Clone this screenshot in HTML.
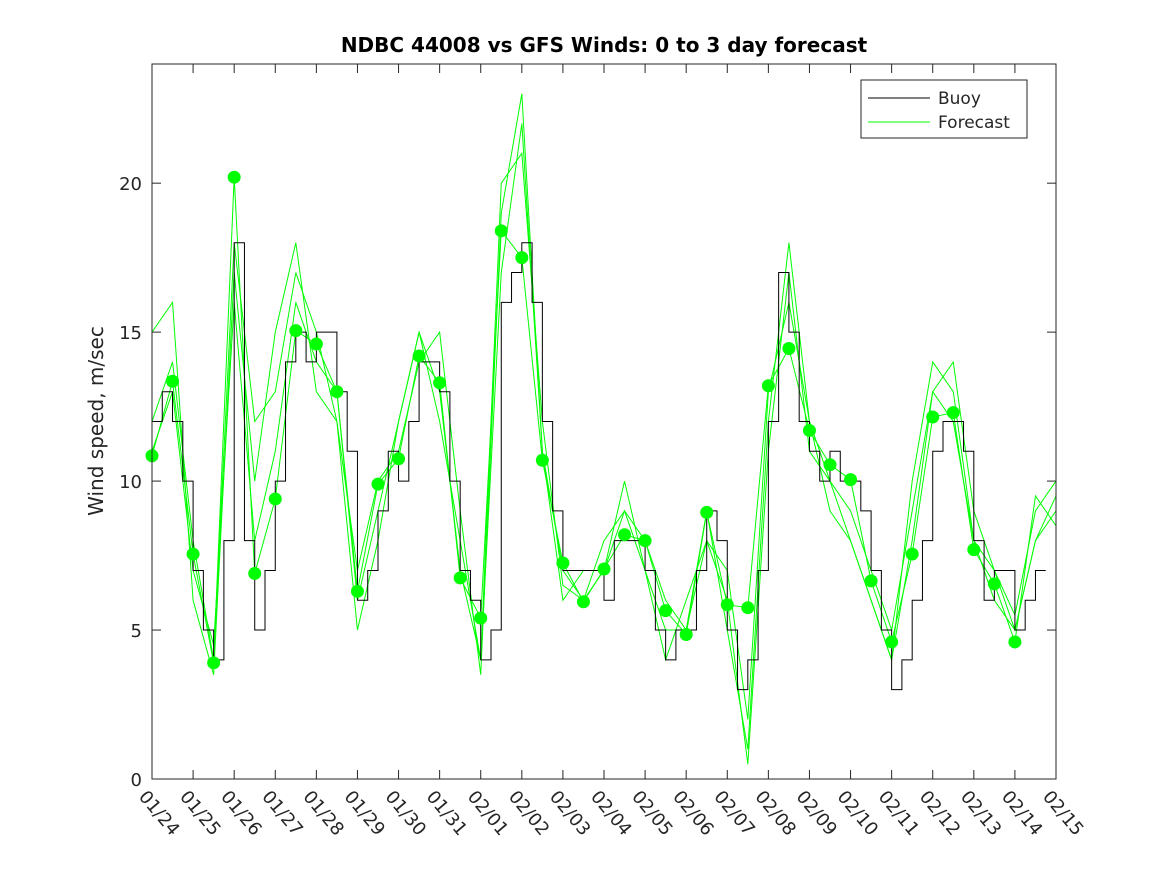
<!DOCTYPE html>
<html><head><meta charset="utf-8"><style>
body{margin:0;background:#fff;}
svg text{font-family:"DejaVu Sans","Liberation Sans",sans-serif;fill:#262626;}
</style></head><body>
<svg id="chart" width="1167" height="875" xmlns="http://www.w3.org/2000/svg">
<rect x="0" y="0" width="1167" height="875" fill="#fff"/>
<text x="604" y="52" text-anchor="middle" font-size="20" font-weight="bold" style="fill:#000">NDBC 44008 vs GFS Winds: 0 to 3 day forecast</text>
<text transform="translate(103,421) rotate(-90)" text-anchor="middle" font-size="20">Wind speed, m/sec</text>
<g id="plot"></g>
<rect x="152" y="64" width="904" height="715" fill="none" stroke="#262626" stroke-width="1"/>
<g>
<rect x="861" y="80" width="166" height="58" fill="#fff" stroke="#262626" stroke-width="1"/>
<line x1="868" y1="98" x2="930" y2="98" stroke="#000" stroke-width="1"/>
<text x="938" y="104" font-size="17">Buoy</text>
<line x1="868" y1="122" x2="930" y2="122" stroke="#00ff00" stroke-width="1"/>
<text x="938" y="128" font-size="17">Forecast</text>
</g>
</svg>
<script>
const dateLabels=["01/24","01/25","01/26","01/27","01/28","01/29","01/30","01/31","02/01","02/02","02/03","02/04","02/05","02/06","02/07","02/08","02/09","02/10","02/11","02/12","02/13","02/14","02/15"];
const yTicks=[0,5,10,15,20];
const buoy=[12,13,12,10, 7,5,4,8, 18,8,5,7, 10,14,15,14, 15,15,13,11, 6,7,9,11, 10,12,14,14, 13,10,7,6, 4,5,16,17, 18,16,12,9, 7,7,7,7, 6,8,8,8, 7,5,4,5, 5,7,9,8, 5,3,4,7, 12,17,15,12, 11,10,11,10, 10,9,7,5, 3,4,6,8, 11,12,12,11, 8,6,7,7, 5,6,7];
const dots=[10.85,13.35,7.55,3.9,20.2,6.9,9.4,15.05,14.6,13.0,6.3,9.9,10.75,14.2,13.3,6.75,5.4,18.4,17.5,10.7,7.25,5.95,7.05,8.2,8.0,5.65,4.85,8.95,5.85,5.75,13.2,14.45,11.7,10.55,10.05,6.65,4.6,7.55,12.15,12.3,7.7,6.55,4.6];
const fc1=[10.85,13.35,7.55,3.9,20.2,6.9,9.4,15.05,14.6,13.0,6.3,9.9,10.75,14.2,13.3,6.75,5.4,18.4,17.5,10.7,7.25,5.95,7.05,8.2,8.0,5.65,4.85,8.95,5.85,5.75,13.2,14.45,11.7,10.55,10.05,6.65,4.6,7.55,12.15,12.3,7.7,6.55,4.6,9.5,8.5];
const fc2=[15,16,6,3.5,17,10,15,18,13,12,5,8,12,15,12,8,4,20,21,12,6.5,6,8,9,7,5,5,9,5,1,12,18,12,9,8,6,4,10,14,13,8,6,5,8,9];
const fc3=[12,14,8,4,18,12,13,17,15,12,7,10,11,14,15,9,3.5,19,23,11,7,6,7,10,7,4,6,8,6,0.5,11,17,11,10,9,7,5,9,13,14,9,7,5.5,9,10];
const fc4=[11,13,7,4.5,16,8,11,16,14,13,6,9,12,15,13,7,4,17,22,11,6,7,7,9,8,6,5,8,7,2,13,16,12,10,8,6,4,8,13,12,8,7,5,8,9.5];
const X0=152,X1=1056,Y0=779,Y1=64,DAYS=22,YMAX=24;
const xs=d=>X0+d*(X1-X0)/DAYS, ys=v=>Y0-v*(Y0-Y1)/YMAX;
const NS="http://www.w3.org/2000/svg", g=document.getElementById('plot');
function mk(t,a){const e=document.createElementNS(NS,t);for(const k in a)e.setAttribute(k,a[k]);g.appendChild(e);return e;}
yTicks.forEach(v=>{const y=ys(v);
 const t=mk('line',{x1:X0,y1:y,x2:X0+9,y2:y,stroke:'#262626'});
 
 
 mk('line',{x1:X1-9,y1:y,x2:X1,y2:y,stroke:'#262626'});
 const l=mk('text',{x:X0-10,y:y+7,'text-anchor':'end','font-size':'18'});l.textContent=v;
 
 });
dateLabels.forEach((s,i)=>{const x=xs(i);
 mk('line',{x1:x,y1:Y0,x2:x,y2:Y0-9,stroke:'#262626'});
 mk('line',{x1:x,y1:Y1,x2:x,y2:Y1+9,stroke:'#262626'});
 const l=mk('text',{x:x-14,y:Y0+18,'font-size':'18',transform:`rotate(50 ${x-14} ${Y0+18})`});l.textContent=s;
 
 });
[fc2,fc3,fc4,fc1].forEach(arr=>{const p=arr.map((v,i)=>xs(i*0.5)+','+ys(v)).join(' ');
 const e=mk('polyline',{points:p,fill:'none',stroke:'#00ff00','stroke-width':1});
 
 });
let bp=[];buoy.forEach((v,i)=>{bp.push(xs(i*0.25)+','+ys(v));bp.push(xs((i+1)*0.25)+','+ys(v));});
const b=mk('polyline',{points:bp.join(' '),fill:'none',stroke:'#000','stroke-width':1});


dots.forEach((v,i)=>{const c=mk('circle',{cx:xs(i*0.5),cy:ys(v),r:6.5,fill:'#00ff00'});
 
 });
</script>
</body></html>
